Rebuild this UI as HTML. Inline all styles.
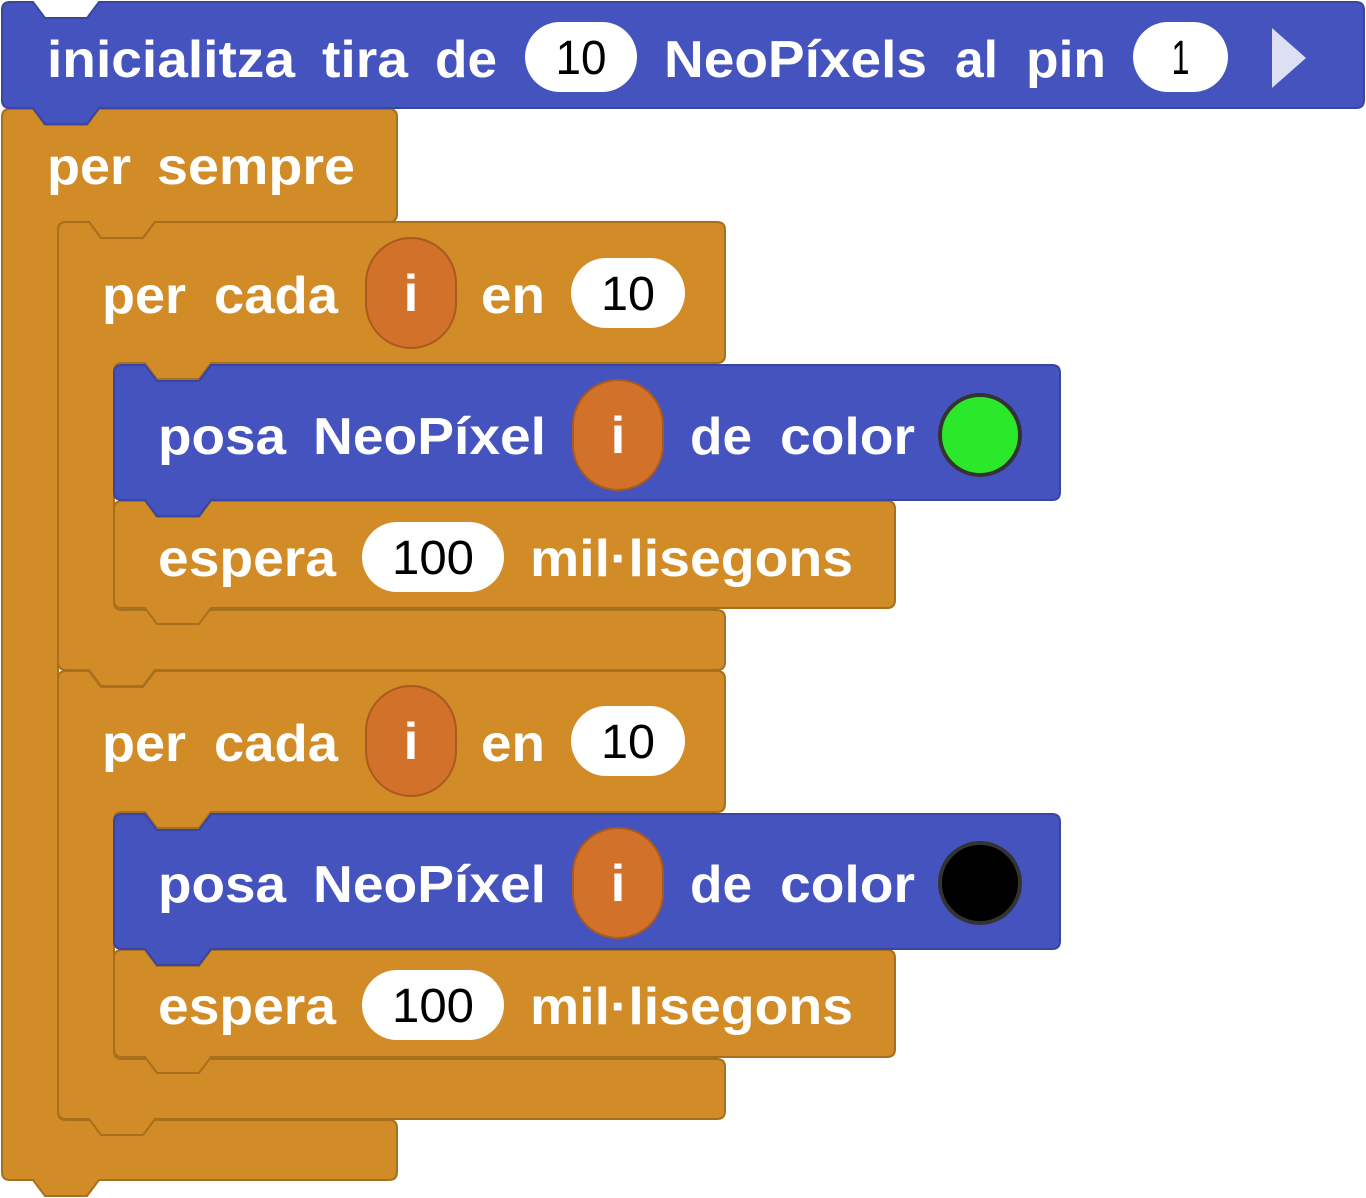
<!DOCTYPE html>
<html><head><meta charset="utf-8">
<style>
html,body{margin:0;padding:0;background:#fff;}
svg{display:block;}
text{font-family:"Liberation Sans",Arial,sans-serif;}
.w{fill:#fff;font-weight:bold;font-size:52px;}
.n{fill:#000;font-size:48px;}
</style></head>
<body>
<svg id="s" width="1366" height="1198" viewBox="0 0 1366 1198" xmlns="http://www.w3.org/2000/svg"></svg>
<script>
(function(){
var S=document.getElementById('s');
var NS='http://www.w3.org/2000/svg';
function el(t,a,txt){var e=document.createElementNS(NS,t);for(var k in a)e.setAttribute(k,a[k]);if(txt!==undefined)e.textContent=txt;S.appendChild(e);return e;}
var r=8;
function topEdge(x,y,w){return 'M '+x+' '+(y+r)+' Q '+x+' '+y+' '+(x+r)+' '+y+' L '+(x+31)+' '+y+' L '+(x+43)+' '+(y+16)+' L '+(x+85)+' '+(y+16)+' L '+(x+97)+' '+y+' L '+(x+w-r)+' '+y+' Q '+(x+w)+' '+y+' '+(x+w)+' '+(y+r)+' ';}
function botEdge(x,w,yb){return 'L '+(x+w)+' '+(yb-r)+' Q '+(x+w)+' '+yb+' '+(x+w-r)+' '+yb+' L '+(x+97)+' '+yb+' L '+(x+85)+' '+(yb+16)+' L '+(x+43)+' '+(yb+16)+' L '+(x+31)+' '+yb+' L '+(x+r)+' '+yb+' Q '+x+' '+yb+' '+x+' '+(yb-r)+' Z';}
function stack(x,y,w,h,fill,stroke){
  el('path',{d:topEdge(x,y,w)+botEdge(x,w,y+h),fill:fill,stroke:stroke,'stroke-width':2});
}
function cblock(x,y,w,h1,m,h2,fill,stroke){
  var o=56,a=x+o,y1=y+h1,y2=y1+m;
  var d=topEdge(x,y,w)+'L '+(x+w)+' '+(y1-r)+' Q '+(x+w)+' '+y1+' '+(x+w-r)+' '+y1+' L '+(a+97)+' '+y1+' L '+(a+85)+' '+(y1+16)+' L '+(a+43)+' '+(y1+16)+' L '+(a+31)+' '+y1+' L '+(a+r)+' '+y1+' Q '+a+' '+y1+' '+a+' '+(y1+r)+' L '+a+' '+(y2-r)+' Q '+a+' '+y2+' '+(a+r)+' '+y2+' L '+(x+w-r)+' '+y2+' Q '+(x+w)+' '+y2+' '+(x+w)+' '+(y2+r)+' '+botEdge(x,w,y2+h2);
  el('path',{d:d,fill:fill,stroke:stroke,'stroke-width':2});
}
function W(x,y,t,len){el('text',{x:x,y:y,'class':'w',textLength:len,lengthAdjust:'spacingAndGlyphs'},t);}
function pill(x1,x2,y1,y2,t,tl){el('rect',{x:x1,y:y1,width:x2-x1,height:y2-y1,rx:(y2-y1)/2,fill:'#fff'});
  el('text',{x:(x1+x2)/2,y:(y1+y2)/2+17,'class':'n','text-anchor':'middle',textLength:tl,lengthAdjust:'spacingAndGlyphs'},t);}
function vr(x1,x2,y1,y2){el('rect',{x:x1,y:y1,width:x2-x1,height:y2-y1,rx:(x2-x1)/2,fill:'#d2712a',stroke:'#a85a20','stroke-width':2});
  el('text',{x:(x1+x2)/2,y:(y1+y2)/2+18,'class':'w','text-anchor':'middle'},'i');}
var B='#4553be',BS='#3a45a0',O='#d18b27',OS='#a86f1e';
cblock(2,109,395,113,898,60,O,OS);
stack(2,2,1362,106,B,BS);
[0,449].forEach(function(dy){
  cblock(58,222+dy,667,141,247,60,O,OS);
  stack(114,501+dy,781,107,O,OS);
  stack(114,365+dy,946,135,B,BS);
});
W(47,77,'inicialitza',248);W(322,77,'tira',86);W(435,77,'de',62);
pill(525,637,22,92,'10',51);
W(664,77,'NeoPíxels',263);W(955,77,'al',43);W(1026,77,'pin',80);
pill(1133,1228,22,92,'1',18);
el('path',{d:'M 1272 28 L 1306 58 L 1272 88 Z',fill:'#dde0f5'});
W(47,184,'per',84);W(157,184,'sempre',198);
[0,448].forEach(function(dy){
  W(102,313+dy,'per',84);W(214,313+dy,'cada',124);
  vr(366,456,238+dy,348+dy);
  W(481,313+dy,'en',64);
  pill(571,685,258+dy,328+dy,'10',54);
  W(158,454+dy,'posa',128);W(313,454+dy,'NeoPíxel',233);
  vr(573,663,380+dy,490+dy);
  W(690,454+dy,'de',62);W(780,454+dy,'color',135);
  el('circle',{cx:980,cy:435+dy,r:40,fill:dy?'#000':'#2be82b',stroke:'#333','stroke-width':4});
  W(158,576+dy,'espera',178);
  pill(362,504,522+dy,592+dy,'100',82);
  W(530,576+dy,'mil·lisegons',323);
});
})();
</script>
</body></html>
